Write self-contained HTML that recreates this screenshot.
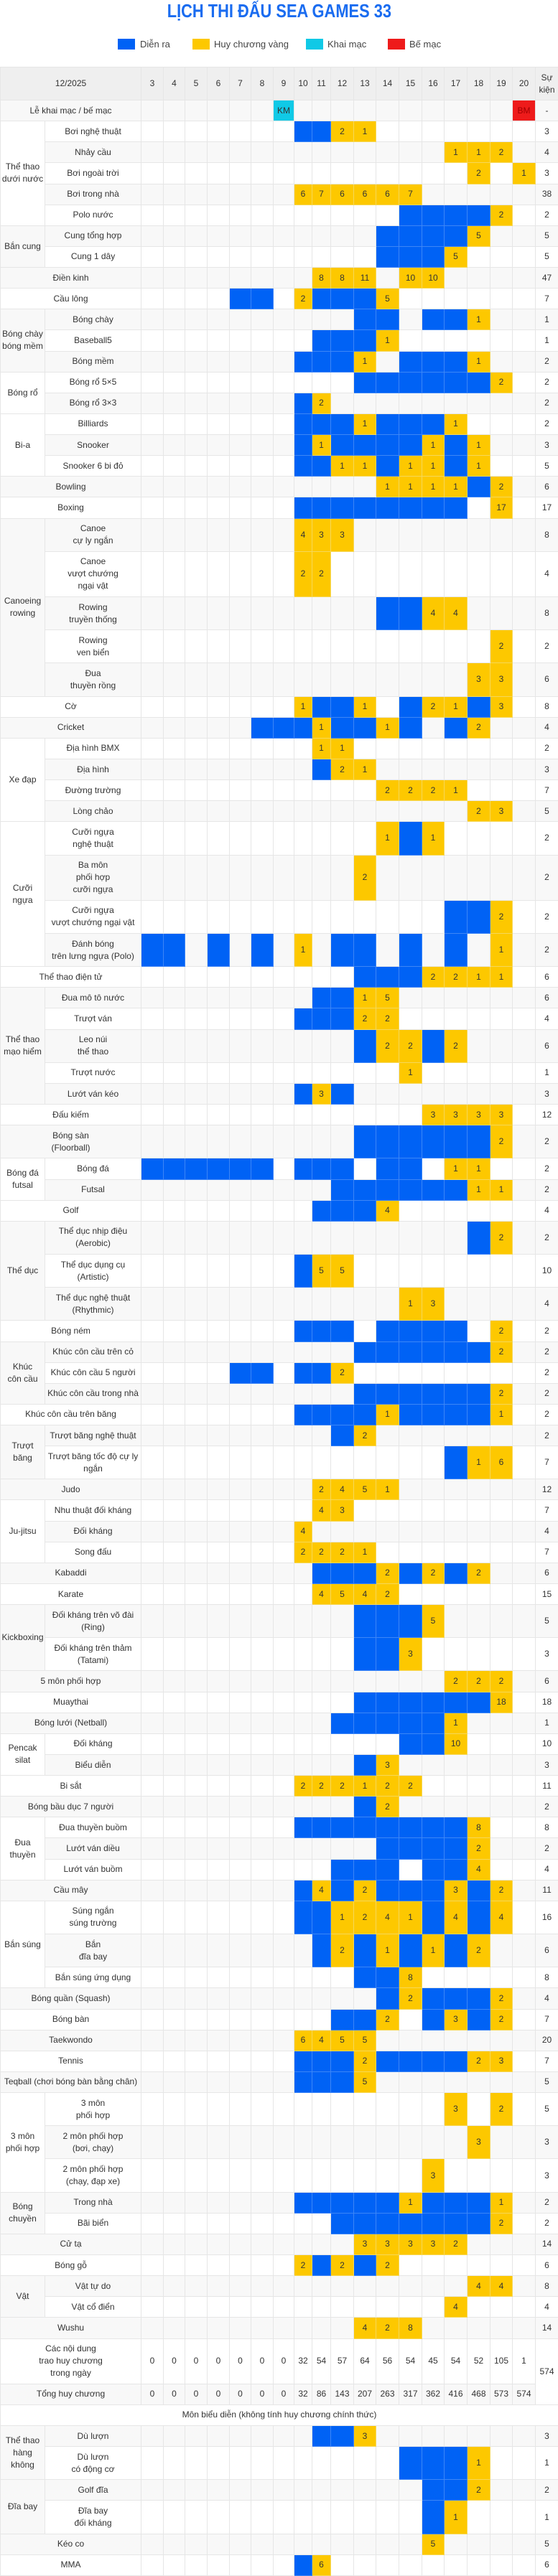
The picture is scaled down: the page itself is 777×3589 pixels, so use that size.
<!DOCTYPE html>
<html><head><meta charset="utf-8">
<style>
body{margin:0;width:777px;height:3588px;background:#fff;font-family:"Liberation Sans",sans-serif;position:relative;overflow:hidden}
.title{position:absolute;top:0;left:0;width:777px;text-align:center;font-size:26px;font-weight:bold;color:#1a6cf0;line-height:30px;}
.title span{display:inline-block;transform:scaleX(0.84)}
.legend{position:absolute;top:54px;left:0;width:777px;height:16px;font-size:13px;color:#444}
.legend i{position:absolute;top:0;width:24px;height:15px}
.legend span{position:absolute;top:0;line-height:15px}
table{position:absolute;top:93px;left:0;width:777px;border-collapse:collapse;table-layout:fixed;font-size:12px;color:#333;line-height:17px}
td,th{border:1px solid #e6e6e6;text-align:center;vertical-align:middle;padding:0;overflow:hidden}
thead th{background:#efefef;font-weight:normal;height:45px}
tbody tr{height:29.14px}
tbody tr.d{height:46.21px}
tbody tr.t{height:63.29px}
tbody tr:nth-child(odd){background:#f8f8f8}
td.b{background:#0062f5;border-color:#3d86f7}
td.g{background:#fdc800;border-color:#f6d85a}
td.c{background:#10c9e6}
td.r{background:#ee1b1b;color:#a30000}
</style></head><body>
<div class="title"><span>LỊCH THI ĐẤU SEA GAMES 33</span></div>
<div class="legend">
<i style="left:164px;background:#0062f5"></i><span style="left:195px">Diễn ra</span>
<i style="left:268px;background:#fdc800"></i><span style="left:298px">Huy chương vàng</span>
<i style="left:426px;background:#10c9e6"></i><span style="left:456px">Khai mạc</span>
<i style="left:540px;background:#ee1b1b"></i><span style="left:570px">Bế mạc</span>
</div>
<table id="tb">
<colgroup><col style="width:62px"><col style="width:134px"><col style="width:31px"><col style="width:30px"><col style="width:31px"><col style="width:31px"><col style="width:30px"><col style="width:31px"><col style="width:29px"><col style="width:25px"><col style="width:26px"><col style="width:32px"><col style="width:31px"><col style="width:32px"><col style="width:32px"><col style="width:31px"><col style="width:32px"><col style="width:32px"><col style="width:31px"><col style="width:32px"><col style="width:32px"></colgroup>
<thead><tr><th colspan=2>12/2025<th>3<th>4<th>5<th>6<th>7<th>8<th>9<th>10<th>11<th>12<th>13<th>14<th>15<th>16<th>17<th>18<th>19<th>20<th>Sự<br>kiện</tr></thead>
<tbody>
<tr><td colspan=2>Lễ khai mạc / bế mạc<td>-</tr>
<tr><td rowspan=5>Thể thao<br>dưới nước<td>Bơi nghệ thuật<td>3</tr>
<tr><td>Nhảy cầu<td>4</tr>
<tr><td>Bơi ngoài trời<td>3</tr>
<tr><td>Bơi trong nhà<td>38</tr>
<tr><td>Polo nước<td>2</tr>
<tr><td rowspan=2>Bắn cung<td>Cung tổng hợp<td>5</tr>
<tr><td>Cung 1 dây<td>5</tr>
<tr><td colspan=2>Điền kinh<td>47</tr>
<tr><td colspan=2>Cầu lông<td>7</tr>
<tr><td rowspan=3>Bóng chày<br>bóng mềm<td>Bóng chày<td>1</tr>
<tr><td>Baseball5<td>1</tr>
<tr><td>Bóng mềm<td>2</tr>
<tr><td rowspan=2>Bóng rổ<td>Bóng rổ 5×5<td>2</tr>
<tr><td>Bóng rổ 3×3<td>2</tr>
<tr><td rowspan=3>Bi-a<td>Billiards<td>2</tr>
<tr><td>Snooker<td>3</tr>
<tr><td>Snooker 6 bi đỏ<td>5</tr>
<tr><td colspan=2>Bowling<td>6</tr>
<tr><td colspan=2>Boxing<td>17</tr>
<tr class=d><td rowspan=5>Canoeing<br>rowing<td>Canoe<br>cự ly ngắn<td>8</tr>
<tr class=t><td>Canoe<br>vượt chướng<br>ngại vật<td>4</tr>
<tr class=d><td>Rowing<br>truyền thống<td>8</tr>
<tr class=d><td>Rowing<br>ven biển<td>2</tr>
<tr class=d><td>Đua<br>thuyền rồng<td>6</tr>
<tr><td colspan=2>Cờ<td>8</tr>
<tr><td colspan=2>Cricket<td>4</tr>
<tr><td rowspan=4>Xe đạp<td>Địa hình BMX<td>2</tr>
<tr><td>Địa hình<td>3</tr>
<tr><td>Đường trường<td>7</tr>
<tr><td>Lòng chảo<td>5</tr>
<tr class=d><td rowspan=4>Cưỡi<br>ngựa<td>Cưỡi ngựa<br>nghệ thuật<td>2</tr>
<tr class=t><td>Ba môn<br>phối hợp<br>cưỡi ngựa<td>2</tr>
<tr class=d><td>Cưỡi ngựa<br>vượt chướng ngại vật<td>2</tr>
<tr class=d><td>Đánh bóng<br>trên lưng ngựa (Polo)<td>2</tr>
<tr><td colspan=2>Thể thao điện tử<td>6</tr>
<tr><td rowspan=5>Thể thao<br>mạo hiểm<td>Đua mô tô nước<td>6</tr>
<tr><td>Trượt ván<td>4</tr>
<tr class=d><td>Leo núi<br>thể thao<td>6</tr>
<tr><td>Trượt nước<td>1</tr>
<tr><td>Lướt ván kéo<td>3</tr>
<tr><td colspan=2>Đấu kiếm<td>12</tr>
<tr class=d><td colspan=2>Bóng sàn<br>(Floorball)<td>2</tr>
<tr><td rowspan=2>Bóng đá<br>futsal<td>Bóng đá<td>2</tr>
<tr><td>Futsal<td>2</tr>
<tr><td colspan=2>Golf<td>4</tr>
<tr class=d><td rowspan=3>Thể dục<td>Thể dục nhịp điệu<br>(Aerobic)<td>2</tr>
<tr class=d><td>Thể dục dụng cụ<br>(Artistic)<td>10</tr>
<tr class=d><td>Thể dục nghệ thuật<br>(Rhythmic)<td>4</tr>
<tr><td colspan=2>Bóng ném<td>2</tr>
<tr><td rowspan=3>Khúc<br>côn cầu<td>Khúc côn cầu trên cỏ<td>2</tr>
<tr><td>Khúc côn cầu 5 người<td>2</tr>
<tr><td>Khúc côn cầu trong nhà<td>2</tr>
<tr><td colspan=2>Khúc côn cầu trên băng<td>2</tr>
<tr><td rowspan=2>Trượt<br>băng<td>Trượt băng nghệ thuật<td>2</tr>
<tr class=d><td>Trượt băng tốc độ cự ly<br>ngắn<td>7</tr>
<tr><td colspan=2>Judo<td>12</tr>
<tr><td rowspan=3>Ju-jitsu<td>Nhu thuật đối kháng<td>7</tr>
<tr><td>Đối kháng<td>4</tr>
<tr><td>Song đấu<td>7</tr>
<tr><td colspan=2>Kabaddi<td>6</tr>
<tr><td colspan=2>Karate<td>15</tr>
<tr class=d><td rowspan=2>Kickboxing<td>Đối kháng trên võ đài<br>(Ring)<td>5</tr>
<tr class=d><td>Đối kháng trên thảm<br>(Tatami)<td>3</tr>
<tr><td colspan=2>5 môn phối hợp<td>6</tr>
<tr><td colspan=2>Muaythai<td>18</tr>
<tr><td colspan=2>Bóng lưới (Netball)<td>1</tr>
<tr><td rowspan=2>Pencak<br>silat<td>Đối kháng<td>10</tr>
<tr><td>Biểu diễn<td>3</tr>
<tr><td colspan=2>Bi sắt<td>11</tr>
<tr><td colspan=2>Bóng bầu dục 7 người<td>2</tr>
<tr><td rowspan=3>Đua thuyền<td>Đua thuyền buồm<td>8</tr>
<tr><td>Lướt ván diều<td>2</tr>
<tr><td>Lướt ván buồm<td>4</tr>
<tr><td colspan=2>Cầu mây<td>11</tr>
<tr class=d><td rowspan=3>Bắn súng<td>Súng ngắn<br>súng trường<td>16</tr>
<tr class=d><td>Bắn<br>đĩa bay<td>6</tr>
<tr><td>Bắn súng ứng dụng<td>8</tr>
<tr><td colspan=2>Bóng quần (Squash)<td>4</tr>
<tr><td colspan=2>Bóng bàn<td>7</tr>
<tr><td colspan=2>Taekwondo<td>20</tr>
<tr><td colspan=2>Tennis<td>7</tr>
<tr><td colspan=2>Teqball (chơi bóng bàn bằng chân)<td>5</tr>
<tr class=d><td rowspan=3>3 môn<br>phối hợp<td>3 môn<br>phối hợp<td>5</tr>
<tr class=d><td>2 môn phối hợp<br>(bơi, chạy)<td>3</tr>
<tr class=d><td>2 môn phối hợp<br>(chạy, đạp xe)<td>3</tr>
<tr><td rowspan=2>Bóng<br>chuyền<td>Trong nhà<td>2</tr>
<tr><td>Bãi biển<td>2</tr>
<tr><td colspan=2>Cử tạ<td>14</tr>
<tr><td colspan=2>Bóng gỗ<td>6</tr>
<tr><td rowspan=2>Vật<td>Vật tự do<td>8</tr>
<tr><td>Vật cổ điển<td>4</tr>
<tr><td colspan=2>Wushu<td>14</tr>
<tr class=t><td colspan=2>Các nội dung<br>trao huy chương<br>trong ngày<td>0<td>0<td>0<td>0<td>0<td>0<td>0<td>32<td>54<td>57<td>64<td>56<td>54<td>45<td>54<td>52<td>105<td>1<td rowspan=2>574</tr>
<tr><td colspan=2>Tổng huy chương<td>0<td>0<td>0<td>0<td>0<td>0<td>0<td>32<td>86<td>143<td>207<td>263<td>317<td>362<td>416<td>468<td>573<td>574</tr>
<tr style="background:#fff"><td colspan=21>Môn biểu diễn (không tính huy chương chính thức)</tr>
<tr><td rowspan=2>Thể thao<br>hàng<br>không<td>Dù lượn<td>3</tr>
<tr class=d><td>Dù lượn<br>có động cơ<td>1</tr>
<tr><td rowspan=2>Đĩa bay<td>Golf đĩa<td>2</tr>
<tr class=d><td>Đĩa bay<br>đối kháng<td>1</tr>
<tr><td colspan=2>Kéo co<td>5</tr>
<tr><td colspan=2>MMA<td>6</tr>
</tbody></table>
<script>
var D=[
"6*. K 10*. M",
"7*. B B 2 1 7*.",
"14*. 1 1 2 .",
"15*. 2 . 1",
"7*. 6 7 6 6 6 7 5*.",
"12*. 4*B 2 .",
"11*. 4*B 5 2*.",
"11*. 3*B 5 3*.",
"8*. 8 8 11 . 10 10 4*.",
"4*. B B . 2 B B B 5 6*.",
"10*. B B . B B 1 2*.",
"8*. 3*B 1 6*.",
"7*. 3*B 1 . 3*B 1 2*.",
"10*. 6*B 2 .",
"7*. B 2 9*.",
"7*. 3*B 1 3*B 1 3*.",
"7*. B 1 4*B 1 B 1 2*.",
"7*. B B 1 1 B 1 1 B 1 2*.",
"11*. 1 1 1 1 B 2 .",
"7*. 8*B . 17 .",
"7*. 4 3 3 8*.",
"7*. 2 2 9*.",
"11*. B B 4 4 3*.",
"16*. 2 .",
"15*. 3 3 .",
"7*. 1 B B 1 . B 2 1 B 3 .",
"5*. 3*B 1 B B 1 B . B 2 2*.",
"8*. 1 1 8*.",
"8*. B 2 1 7*.",
"11*. 2 2 2 1 3*.",
"15*. 2 3 .",
"11*. 1 B 1 4*.",
"10*. 2 7*.",
"14*. B B 2 .",
"B B . B . B . 1 . B B . B . B . 1 .",
"10*. 3*B 2 2 1 1 .",
"8*. B B 1 5 6*.",
"7*. 3*B 2 2 6*.",
"10*. B 2 2 B 2 3*.",
"12*. 1 5*.",
"7*. B 3 B 8*.",
"13*. 3 3 3 3 .",
"10*. 6*B 2 .",
"6*B . 3*B . B B . 1 1 2*.",
"9*. 6*B 1 1 .",
"8*. 3*B 4 6*.",
"15*. B 2 .",
"7*. B 5 5 8*.",
"12*. 1 3 4*.",
"7*. 3*B . 4*B . 2 .",
"10*. 6*B 2 .",
"4*. B B . B B 2 8*.",
"10*. 6*B 2 .",
"7*. 4*B 1 4*B 1 .",
"9*. B 2 7*.",
"14*. B 1 6 .",
"8*. 2 4 5 1 6*.",
"8*. 4 3 8*.",
"7*. 4 10*.",
"7*. 2 2 2 1 7*.",
"8*. 3*B 2 B 2 B 2 2*.",
"8*. 4 5 4 2 6*.",
"10*. 3*B 5 4*.",
"10*. B B 3 5*.",
"14*. 2 2 2 .",
"10*. 6*B 18 .",
"9*. 5*B 1 3*.",
"12*. B B 10 3*.",
"10*. B 3 6*.",
"7*. 2 2 2 1 2 2 5*.",
"10*. B 2 6*.",
"7*. 8*B 8 2*.",
"11*. 4*B 2 2*.",
"9*. 3*B . B B 4 2*.",
"7*. B 4 B 2 3*B 3 B 2 .",
"7*. B B 1 2 4 1 B 4 B 4 .",
"8*. B 2 B 1 B 1 B 2 2*.",
"10*. B B 8 5*.",
"11*. B 2 3*B 2 .",
"9*. B B 2 . B 3 B 2 .",
"7*. 6 4 5 5 7*.",
"7*. 3*B 2 4*B 2 3 .",
"7*. 3*B 5 7*.",
"14*. 3 . 2 .",
"15*. 3 2*.",
"13*. 3 4*.",
"7*. 5*B 1 3*B 1 .",
"9*. 7*B 2 .",
"10*. 3 3 3 3 2 3*.",
"7*. 2 B 2 B 2 6*.",
"15*. 4 4 .",
"14*. 4 3*.",
"10*. 4 2 8 5*.",
"8*. B B 3 7*.",
"12*. 3*B 1 2*.",
"13*. B B 2 2*.",
"13*. B 1 3*.",
"13*. 5 4*.",
"7*. B 6 9*."
];
var rows=document.getElementById('tb').tBodies[0].rows,k=0;
for(var i=0;i<rows.length;i++){var r=rows[i];var n=r.cells.length;if(n<2||n>3)continue;
var toks=D[k++].split(' '),arr=[];
toks.forEach(function(t){var m=t.split('*');if(m.length==2){for(var j=0;j<+m[0];j++)arr.push(m[1]);}else arr.push(t);});
var last=r.cells[n-1];
arr.forEach(function(t){var td=document.createElement('td');
if(t=='B')td.className='b';else if(t=='K'){td.className='c';td.textContent='KM';}else if(t=='M'){td.className='r';td.textContent='BM';}else if(t!='.'){td.className='g';td.textContent=t;}
r.insertBefore(td,last);});}
</script>
</body></html>
